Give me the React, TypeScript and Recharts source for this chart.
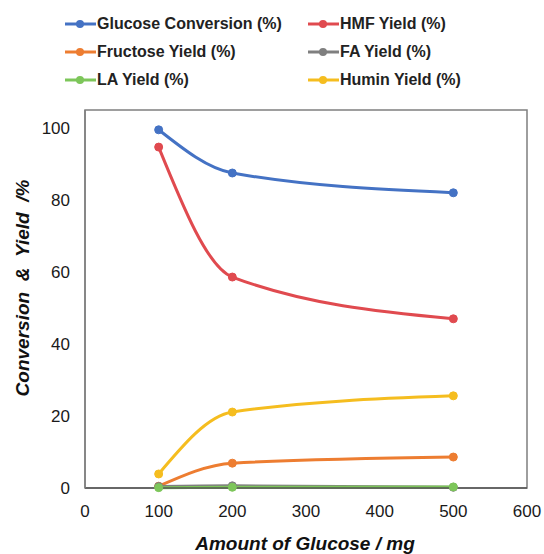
import React from "react";
import {
  LineChart,
  Line,
  XAxis,
  YAxis,
  Legend,
  ReferenceArea,
  Label,
} from "recharts";

// glucose amount (mg)
const amounts = [100, 200, 500];

const glucoseConversion = [99.5, 87.5, 82.0];
const hmfYield = [94.7, 58.6, 47.0];
const fructoseYield = [0.5, 6.9, 8.6];
const faYield = [0.4, 0.6, 0.2];
const laYield = [0.1, 0.2, 0.3];
const huminYield = [3.9, 21.1, 25.6];

const xTicks = [0, 100, 200, 300, 400, 500, 600];
const yTicks = [0, 20, 40, 60, 80, 100];

const series = [
  { key: "glucose", name: "Glucose Conversion (%)", color: "#4472C4", values: glucoseConversion },
  { key: "hmf", name: "HMF Yield (%)", color: "#E04A4F", values: hmfYield },
  { key: "fructose", name: "Fructose Yield (%)", color: "#ED7D31", values: fructoseYield },
  { key: "fa", name: "FA Yield (%)", color: "#7F7F7F", values: faYield },
  { key: "la", name: "LA Yield (%)", color: "#7DC65A", values: laYield },
  { key: "humin", name: "Humin Yield (%)", color: "#F5BD1F", values: huminYield },
];

const data = amounts.map((amount, i) => {
  const row: Record<string, number> = { amount };
  for (const s of series) row[s.key] = s.values[i];
  return row;
});

const FONT = "'Liberation Sans', Arial, sans-serif";
const titleStyle = {
  fontFamily: FONT,
  fontSize: 19,
  fontWeight: "bold",
  fontStyle: "italic",
  fill: "#111",
  whiteSpace: "pre",
} as const;

// Two-column legend in the order Excel lays it out
function LegendBox() {
  return (
    <div
      style={{
        display: "grid",
        gridTemplateColumns: "243px 200px",
        rowGap: 8,
        fontFamily: FONT,
        fontWeight: "bold",
        fontSize: 16,
        color: "#222",
        paddingLeft: 65,
      }}
    >
      {series.map((s) => (
        <div key={s.key} style={{ display: "flex", alignItems: "center", height: 20 }}>
          <svg width={31} height={10} style={{ marginRight: 1 }}>
            <line x1={0} y1={5} x2={31} y2={5} stroke={s.color} strokeWidth={3} />
            <circle cx={15} cy={5} r={4} fill={s.color} />
          </svg>
          <span>{s.name}</span>
        </div>
      ))}
    </div>
  );
}

export default function App() {
  return (
    <div style={{ position: "absolute", left: 0, top: 0, background: "#fff" }}>
      <LineChart
        width={544}
        height={554}
        data={data}
        margin={{ top: 110, right: 17, bottom: 0, left: 0 }}
      >
        <Legend
          verticalAlign="top"
          align="left"
          content={() => <LegendBox />}
          wrapperStyle={{ position: "absolute", top: 14, left: 0, width: 544, height: 0 }}
        />
        <XAxis
          dataKey="amount"
          type="number"
          domain={[0, 600]}
          ticks={xTicks}
          tickLine={false}
          tickSize={0}
          tickMargin={17}
          height={66}
          axisLine={{ stroke: "#555", strokeWidth: 1.5 }}
          tick={{ fontFamily: FONT, fontSize: 17, fill: "#1a1a1a" }}
        >
          <Label
            content={() => (
              <text x={305} y={550} textAnchor="middle" style={titleStyle}>
                Amount of Glucose / mg
              </text>
            )}
          />
        </XAxis>
        <YAxis
          type="number"
          domain={[0, 105]}
          ticks={yTicks}
          tickLine={false}
          tickSize={0}
          tickMargin={15}
          width={85}
          axisLine={{ stroke: "#7f7f7f", strokeWidth: 1.5 }}
          tick={{ fontFamily: FONT, fontSize: 17, fill: "#1a1a1a" }}
        >
          <Label
            content={() => (
              <text
                x={29}
                y={288}
                textAnchor="middle"
                transform="rotate(-90 29 288)"
                style={titleStyle}
              >
                {"Conversion\u00A0\u00A0&\u00A0\u00A0Yield\u00A0\u00A0/%"}
              </text>
            )}
          />
        </YAxis>
        <ReferenceArea
          x1={0}
          x2={600}
          y1={0}
          y2={105}
          fill="none"
          stroke="#7f7f7f"
          strokeWidth={1.5}
          ifOverflow="visible"
        />
        {series.map((s) => (
          <Line
            key={s.key}
            dataKey={s.key}
            name={s.name}
            type="monotone"
            stroke={s.color}
            strokeWidth={3}
            dot={{ r: 4, fill: s.color, stroke: s.color, strokeWidth: 1 }}
            activeDot={false}
            isAnimationActive={false}
          />
        ))}
      </LineChart>
    </div>
  );
}
